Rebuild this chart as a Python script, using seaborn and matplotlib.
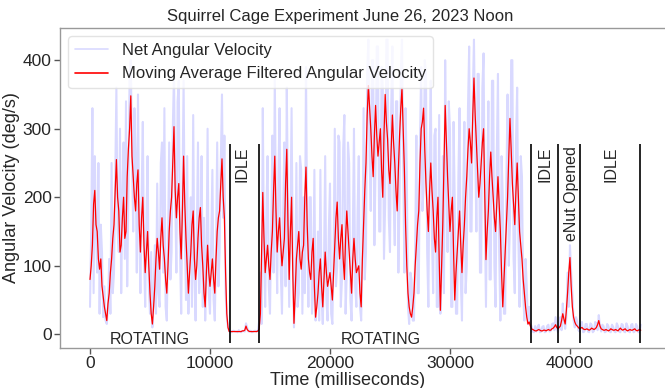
import numpy as np
import pandas as pd
import matplotlib
matplotlib.use("Agg")
import matplotlib.pyplot as plt
import seaborn as sns

# ---- data ----
step_ms = 100   # sample spacing of both curves

rot1_raw = [40, 150, 330, 60, 260, 150, 90, 250, 30, 160, 120, 25, 70, 20, 15, 40, 110, 30, 250, 60,
            90, 230, 360, 150, 120, 300, 60, 200, 280, 110, 340, 70, 200, 380, 400, 260, 150, 330, 260, 90,
            350, 160, 60, 200, 310, 120, 40, 170, 260, 70, 30, 120, 10, 50, 130, 30, 220, 60, 40, 250,
            280, 90, 330, 40, 20, 130, 280, 80, 120, 300, 380, 200, 90, 340, 370, 120, 30, 200, 370, 150,
            50, 260, 30, 130, 200, 40, 320, 90, 20, 150, 280, 60, 110, 260, 40, 170, 20, 90, 300, 60,
            30, 140, 240, 50, 20, 120, 280, 70, 120, 250, 350, 170, 290, 60, 25, 10]
idle1_raw = [5, 4, 3, 5, 5, 4, 4, 3, 6, 4, 3, 5, 5, 4, 16, 10, 4, 5, 5, 3, 4, 5, 5, 4]
rot2_raw = [6, 20, 90, 15, 330, 120, 40, 180, 260, 70, 30, 150, 290, 90, 380, 160, 60, 230, 330, 90,
            30, 180, 280, 70, 360, 180, 40, 160, 330, 110, 10, 60, 250, 40, 60, 260, 240, 30, 200, 60,
            390, 150, 40, 200, 200, 30, 60, 240, 20, 70, 150, 20, 240, 50, 15, 100, 260, 50, 20, 150,
            220, 30, 15, 120, 300, 70, 100, 290, 280, 40, 80, 270, 320, 30, 90, 280, 250, 50, 20, 140,
            300, 70, 40, 180, 260, 40, 20, 110, 330, 80, 120, 380, 430, 260, 180, 400, 400, 130, 250, 420,
            420, 150, 150, 390, 360, 110, 190, 430, 430, 170, 120, 330, 420, 200, 130, 340, 340, 90, 200, 380,
            430, 250, 90, 330, 240, 40, 15, 90, 80, 20, 20, 130, 290, 60, 60, 280, 390, 180, 210, 400,
            380, 120, 40, 260, 370, 140, 60, 290, 300, 40, 40, 320, 30, 90, 260, 60, 400, 230, 120, 340,
            300, 40, 40, 310, 190, 30, 30, 230, 330, 80, 20, 200, 310, 60, 100, 330, 420, 150, 150, 350,
            430, 280, 150, 380, 380, 90, 90, 360, 410, 180, 40, 220, 340, 80, 80, 370, 370, 100, 40, 260,
            380, 120, 20, 260, 200, 30, 30, 220, 350, 100, 160, 400, 400, 110, 60, 280, 360, 140, 40, 260,
            230, 60, 20, 110, 70, 15]
end_raw = [40, 15, 12, 4, 3, 12, 4, 10, 14, 3, 4, 11, 12, 3, 4, 12, 14, 4, 5, 15,
           16, 6, 25, 8, 3, 12, 25, 6, 45, 20, 8, 25, 90, 40, 130, 90, 60, 20, 10, 25,
           20, 6, 4, 14, 18, 3, 4, 15, 15, 4, 3, 16, 14, 3, 5, 18, 16, 6, 28, 12,
           4, 14, 12, 3, 4, 15, 12, 4, 3, 14, 11, 4, 3, 16, 12, 4, 3, 15, 14, 4,
           3, 16, 12, 4, 3, 14, 15, 3, 4, 15, 12, 3, 4, 14]

rot1_ma = [80, 100, 130, 190, 210, 160, 150, 110, 95, 110, 70, 55, 40, 30, 20, 45, 60, 90, 110, 140,
           160, 210, 255, 200, 180, 120, 130, 170, 200, 140, 150, 230, 270, 300, 348, 260, 230, 200, 180, 220,
           240, 160, 120, 170, 200, 130, 90, 120, 150, 100, 60, 30, 15, 40, 70, 110, 140, 120, 95, 140,
           170, 130, 110, 80, 60, 100, 150, 180, 200, 250, 303, 210, 170, 200, 220, 150, 110, 180, 260, 190,
           140, 100, 60, 90, 120, 160, 180, 110, 80, 100, 140, 170, 185, 130, 100, 60, 40, 90, 130, 90,
           70, 90, 110, 80, 60, 110, 150, 170, 180, 220, 256, 200, 170, 90, 30, 10]
idle1_ma = [4, 4, 4, 4, 4, 4, 4, 4, 4, 4, 4, 5, 5, 6, 12, 7, 5, 4, 4, 4, 4, 4, 4, 4]
rot2_ma = [5, 8, 30, 120, 207, 140, 90, 110, 130, 100, 80, 120, 150, 210, 260, 180, 120, 150, 170, 130,
           100, 120, 140, 220, 270, 160, 80, 150, 200, 90, 16, 60, 110, 130, 150, 110, 95, 120, 130, 200,
           244, 160, 110, 90, 80, 120, 140, 70, 25, 40, 60, 90, 110, 70, 40, 80, 120, 90, 70, 80,
           90, 70, 50, 90, 130, 170, 193, 140, 110, 140, 160, 110, 80, 140, 180, 150, 120, 90, 60, 110,
           140, 110, 90, 95, 100, 60, 40, 110, 160, 210, 250, 320, 363, 330, 300, 260, 230, 290, 334, 290,
           260, 280, 300, 240, 200, 290, 350, 310, 285, 240, 220, 270, 320, 280, 250, 210, 180, 240, 290, 330,
           359, 300, 240, 160, 100, 60, 40, 30, 25, 40, 60, 100, 130, 160, 180, 250, 300, 310, 330, 270,
           220, 180, 150, 210, 250, 210, 180, 140, 120, 170, 200, 110, 35, 100, 160, 250, 334, 280, 230, 190,
           150, 180, 200, 120, 50, 90, 120, 150, 180, 130, 90, 130, 160, 200, 230, 270, 300, 280, 250, 320,
           374, 320, 280, 240, 200, 220, 250, 280, 300, 200, 109, 150, 180, 230, 266, 230, 200, 170, 150, 190,
           230, 190, 150, 90, 40, 80, 120, 160, 200, 260, 315, 270, 220, 190, 160, 210, 250, 200, 150, 130,
           110, 80, 60, 40, 25, 15]
end_ma = [18, 12, 8, 7, 6, 5, 5, 6, 7, 6, 5, 5, 6, 6, 5, 6, 7, 6, 6, 8,
          9, 11, 14, 10, 8, 10, 12, 20, 30, 22, 15, 35, 60, 90, 112, 70, 40, 25, 18, 14,
          12, 10, 8, 9, 10, 8, 7, 7, 8, 7, 6, 7, 9, 8, 7, 8, 10, 14, 20, 12,
          8, 7, 6, 6, 7, 6, 5, 6, 8, 7, 6, 6, 7, 6, 5, 7, 9, 7, 6, 7,
          8, 6, 5, 6, 7, 6, 6, 7, 8, 6, 5, 6, 7, 6]

event_lines_ms = [11650, 14050, 36750, 39000, 40800, 45830]
event_labels = ["IDLE", "IDLE", "eNut Opened", "IDLE"]
event_label_x = [12700, 37900, 40100, 43400]
rotating_label_x = [5000, 24200]

raw = rot1_raw + idle1_raw + rot2_raw + end_raw
ma = rot1_ma + idle1_ma + rot2_ma + end_ma
df = pd.DataFrame({"Time": np.arange(len(raw)) * step_ms, "raw": raw, "ma": ma})

# ---- style ----
sns.set_style("white")
plt.rcParams["font.family"] = ["Liberation Sans", "DejaVu Sans"]

fig = plt.figure(figsize=(6.65, 3.88), dpi=100)
ax = fig.add_axes([60 / 665, 40 / 388, 605 / 665, 320 / 388])

sns.lineplot(data=df, x="Time", y="raw", ax=ax, color="blue", alpha=0.15,
             linewidth=1.5, label="Net Angular Velocity")
sns.lineplot(data=df, x="Time", y="ma", ax=ax, color="red", alpha=1.0,
             linewidth=0.9, label="Moving Average Filtered Angular Velocity")

ax.vlines(event_lines_ms, -13, 277, color="black", linewidth=1.2)
for x, lab in zip(event_label_x, event_labels):
    ax.text(x, 274, lab, rotation=90, ha="center", va="top", fontsize=11.5)
for x in rotating_label_x:
    ax.text(x, -8, "ROTATING", ha="center", va="center", fontsize=11.5)

ax.set_xlim(-2500, 47920)
ax.set_ylim(-20, 447)
ax.set_xticks([0, 10000, 20000, 30000, 40000])
ax.set_yticks([0, 100, 200, 300, 400])
ax.tick_params(axis="both", labelsize=12.5, length=4, width=1, color="#555555",
               left=True, bottom=True, pad=2)
for side in ["left", "bottom", "top"]:
    ax.spines[side].set_color("#999999")
    ax.spines[side].set_linewidth(1.0)
ax.spines["right"].set_visible(False)

ax.set_xlabel("Time (milliseconds)", fontsize=13)
ax.set_ylabel("Angular Velocity (deg/s)", fontsize=13)
ax.xaxis.set_label_coords((348 - 60) / 605, -0.074)
ax.yaxis.set_label_coords(-0.066, 0.5)

fig.text(340 / 665, 1 - 16 / 388, "Squirrel Cage Experiment June 26, 2023 Noon",
         ha="center", va="center", fontsize=12)

leg = ax.legend(loc="upper left", fontsize=12, frameon=True)
leg.get_frame().set_edgecolor("#dddddd")
for h in leg.get_lines():
    h.set_linewidth(1.2)

fig.savefig("out.png", dpi=100)
